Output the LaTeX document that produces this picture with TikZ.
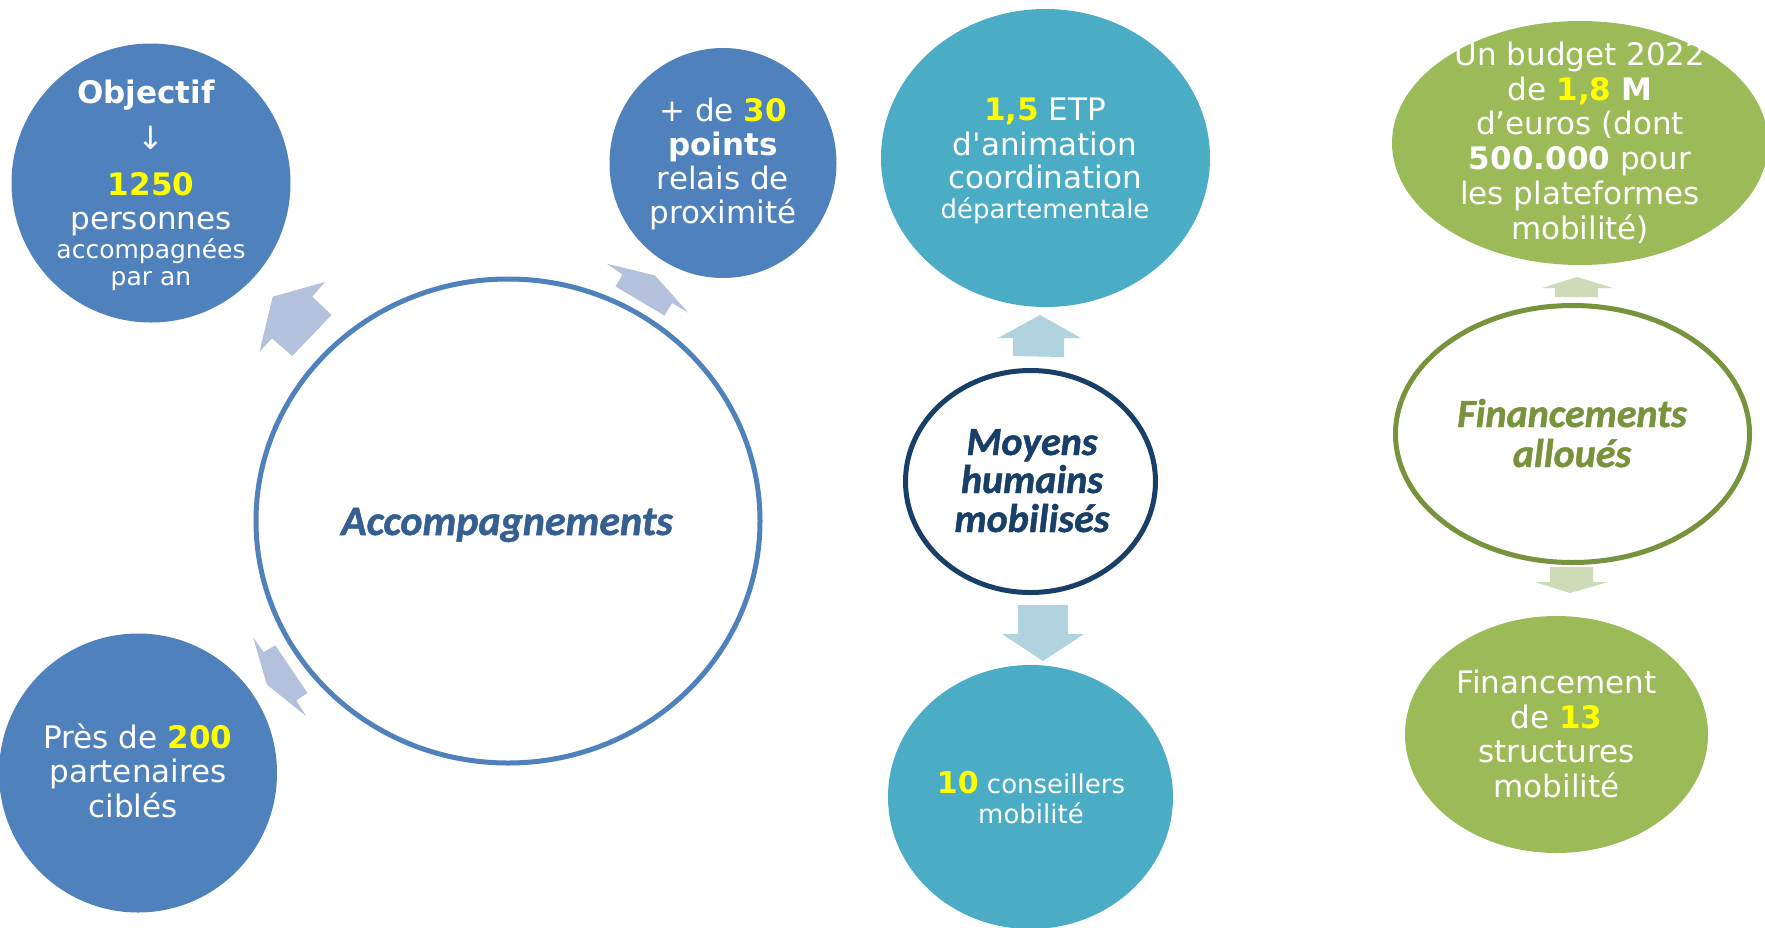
\documentclass[tikz,border=0pt]{standalone}
\usepackage{fontspec}
\setmainfont{DejaVu Sans}
\newfontfamily\nolig{DejaVu Sans}[Ligatures=TeXOff]
\newfontfamily\carl{Carlito}[BoldItalicFeatures={FakeBold=1.2}]
\usetikzlibrary{shapes.geometric}
\definecolor{cblue}{RGB}{79,129,189}
\definecolor{cteal}{RGB}{75,172,198}
\definecolor{cgreen}{RGB}{155,187,89}
\definecolor{navy}{RGB}{23,63,103}
\definecolor{olive}{RGB}{119,147,60}
\definecolor{accblue}{RGB}{54,95,145}
\definecolor{arrblue}{RGB}{179,193,221}
\definecolor{arrteal}{RGB}{177,211,223}
\definecolor{arrgreen}{RGB}{205,219,184}
\definecolor{ylw}{RGB}{255,255,0}
\newcommand\ylw[1]{\textbf{\textcolor{ylw}{#1}}}
\newcommand\fs[1]{\fontsize{#1}{#1}\selectfont}
\begin{document}
\begin{tikzpicture}[x=1pt,y=-1pt,
  blob/.style={ellipse, inner sep=0pt, draw=none},
  ring/.style={ellipse, inner sep=0pt, fill=white, line width=5pt},
  txt/.style={anchor=base, inner sep=0pt, text=white, font=\fs{31}},
  smalltxt/.style={anchor=base, inner sep=0pt, text=white, font=\fs{25}},
  title/.style={anchor=base, inner sep=0pt, font=\carl\bfseries\itshape\fs{40}}]
\useasboundingbox (0,0) rectangle (1765,927);
\fill[white] (0,0) rectangle (1765,927);

% block arrows
\fill[arrblue] (272.7,296.7) -- (325,282) -- (312.3,296.7) -- (331.5,315) -- (292.2,356) -- (272,338.3) -- (259.5,351.7) -- cycle;
\fill[arrblue] (655,275.5) -- (688.3,312.7) -- (672,303) -- (664.5,315.5) -- (615.5,286.5) -- (622.5,274.5) -- (606.7,263.7) -- cycle;
\fill[arrblue] (266.8,684.5) -- (253.2,637.5) -- (263.7,652.2) -- (275.3,645.3) -- (307.5,693) -- (296.4,700.3) -- (306,716) -- cycle;
\fill[arrteal] (1040,315) -- (1081,338) -- (1064,338) -- (1064,357) -- (1013,356) -- (1013,338) -- (998,338) -- cycle;
\fill[arrteal] (1018,605) -- (1068,605) -- (1068,634) -- (1084,634) -- (1043,661) -- (1002,634) -- (1018,634) -- cycle;
\fill[arrgreen] (1577,277) -- (1613,288) -- (1598,288) -- (1598,297) -- (1555,297) -- (1555,288) -- (1542,288) -- cycle;
\fill[arrgreen] (1550,567) -- (1593,567) -- (1593,582) -- (1608,582) -- (1570,593) -- (1535,582) -- (1550,582) -- cycle;

% shapes
\node[blob, fill=cblue, minimum width=279pt, minimum height=279pt] (obj) at (151,183) {};
\node[blob, fill=cblue, minimum width=227pt, minimum height=230pt] (pts) at (723,163) {};
\node[blob, fill=cblue, minimum width=278pt, minimum height=279pt] (part) at (138,773) {};
\node[ring, draw=cblue, minimum width=504pt, minimum height=484pt] (acc) at (508,521) {};
\node[blob, fill=cteal, minimum width=329pt, minimum height=298pt] (etp) at (1045.5,158) {};
\node[ring, draw=navy, minimum width=250pt, minimum height=222pt] (moy) at (1030.5,481.5) {};
\node[blob, fill=cteal, minimum width=285pt, minimum height=264pt] (cons) at (1030.5,797) {};
\node[blob, fill=cgreen, minimum width=376pt, minimum height=244pt] (bud) at (1580,143) {};
\node[ring, draw=olive, minimum width=354pt, minimum height=257pt] (fin) at (1572.5,434) {};
\node[blob, fill=cgreen, minimum width=303pt, minimum height=237pt] (struct) at (1556.5,734.5) {};

% Objectif circle
\node[txt] (o1) at (146,103) {\textbf{Objectif}};
\node[anchor=base, inner sep=0pt, text=white, font=\fs{32}] (o2) at (151,149) {↓};
\node[txt] (o3) at (151,195) {\ylw{1250}};
\node[txt] (o4) at (151,229) {personnes};
\node[smalltxt] (o5) at (151,258) {accompagnées};
\node[smalltxt] (o6) at (151,285) {par an};

% points relais
\node[txt] (p1) at (723,121) {+ de \ylw{30}};
\node[txt] (p2) at (723,155) {\textbf{points}};
\node[txt] (p3) at (723,189) {relais de};
\node[txt] (p4) at (723,223) {proximité};

% partenaires
\node[txt] (q1) at (138,748) {Près de \ylw{200}};
\node[txt] (q2) at (138,782) {partenaires};
\node[txt] (q3) at (133,817) {ciblés};

% Accompagnements
\node[title, text=accblue, font=\carl\bfseries\itshape\fs{42}] (acct) at (507,535) {Accompagnements};

% ETP
\node[txt] (e1) at (1045,120) {\ylw{1,5} ETP};
\node[txt, font=\nolig\fs{31}] (e2) at (1045,155) {d'animation};
\node[txt] (e3) at (1045,188) {coordination};
\node[anchor=base, inner sep=0pt, text=white, font=\fs{26}] (e4) at (1045,218) {départementale};

% Moyens humains
\node[title, text=navy] (m1) at (1032,455) {Moyens};
\node[title, text=navy] (m2) at (1032,493) {humains};
\node[title, text=navy] (m3) at (1032,532) {mobilisés};

% conseillers
\node[anchor=base, inner sep=0pt, text=white, font=\fs{26}] (c1) at (1031,793) {{\fs{30}\ylw{10}} conseillers};
\node[anchor=base, inner sep=0pt, text=white, font=\fs{26}] (c2) at (1031,823) {mobilité};

% budget
\node[txt] (b1) at (1580,65) {Un budget 2022};
\node[txt] (b2) at (1580,100) {de \ylw{1,8} \textbf{M}};
\node[txt] (b3) at (1580,134) {d’euros (dont};
\node[txt] (b4) at (1580,169) {\textbf{500.000} pour};
\node[txt] (b5) at (1580,204) {les plateformes};
\node[txt] (b6) at (1580,239) {mobilité)};

% Financements
\node[title, text=olive, font=\carl\bfseries\itshape\fs{40}] (f1) at (1572,427) {Financements};
\node[title, text=olive, font=\carl\bfseries\itshape\fs{40}] (f2) at (1572,467) {alloués};

% structures
\node[txt] (s1) at (1556.5,693) {Financement};
\node[txt] (s2) at (1556.5,728) {de \ylw{13}};
\node[txt] (s3) at (1556.5,762) {structures};
\node[txt] (s4) at (1556.5,797) {mobilité};
\end{tikzpicture}
\end{document}
